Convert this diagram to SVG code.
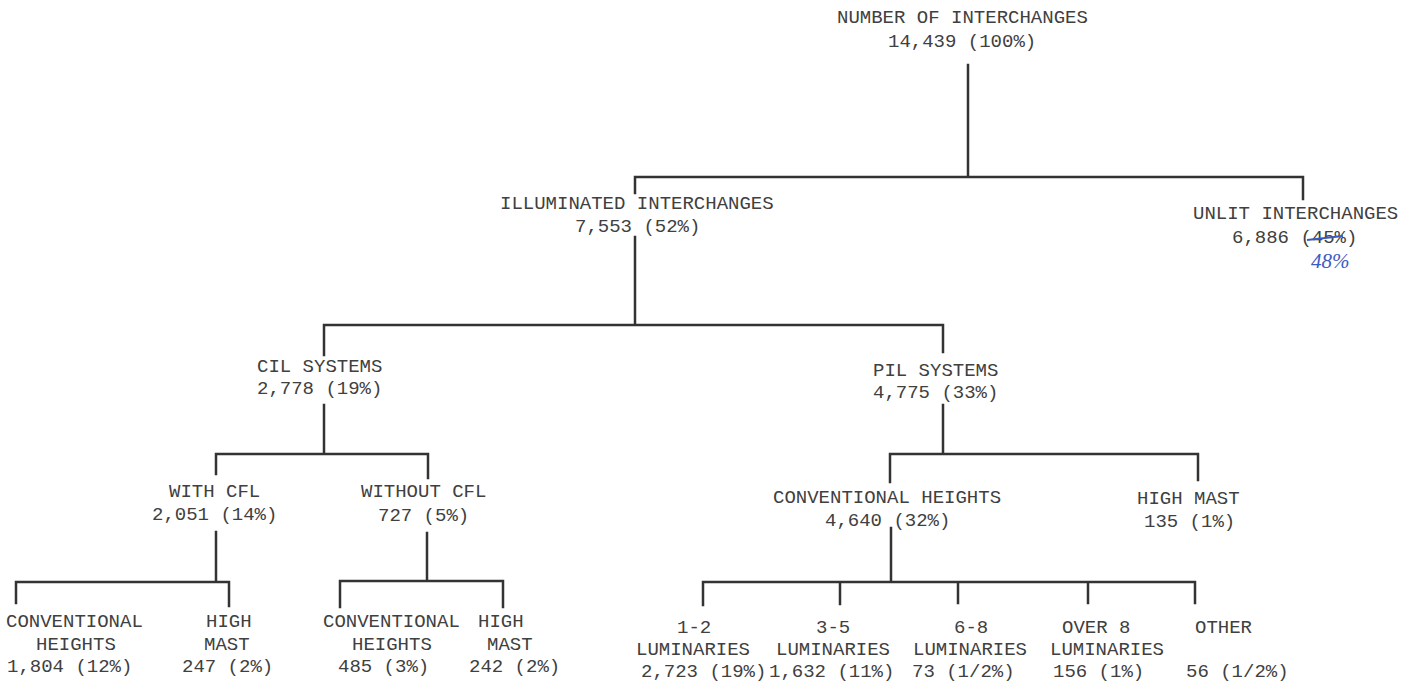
<svg xmlns="http://www.w3.org/2000/svg" width="1415" height="683" viewBox="0 0 1415 683">
<style>
  text { font-family: "Liberation Mono", "DejaVu Sans Mono", monospace; font-size: 19px; fill: #404040; }
  .c { stroke: #333; stroke-width: 2.5; fill: none; stroke-linecap: square; }
  .hand { font-family: "Liberation Serif", serif; font-style: italic; font-size: 21px; fill: #3b5bc4; }
  .strike { stroke: #3b5bc4; stroke-width: 1.8; fill: none; }
</style>
<rect width="1415" height="683" fill="#ffffff"/>
<g id="connectors">
  <path class="c" d="M968,65 V177 M635,177 H1303 M635,177 V193 M1303,177 V199"/>
  <path class="c" d="M635,237 V325 M324,325 H943 M324,325 V355 M943,325 V352"/>
  <path class="c" d="M324,405 V454 M216,454 H428 M216,454 V474 M428,454 V478"/>
  <path class="c" d="M943,405 V454 M890,454 H1198 M890,454 V482 M1198,454 V480"/>
  <path class="c" d="M216,532 V582 M16,582 H229 M16,582 V603 M229,582 V606"/>
  <path class="c" d="M427,533 V581 M340,581 H503 M340,581 V607 M503,581 V607"/>
  <path class="c" d="M891,528 V582 M703,582 H1195 M703,582 V605 M840,582 V604 M958,582 V603 M1088,582 V603 M1195,582 V603"/>
</g>
<g id="n-total">
  <text x="837" y="23">NUMBER OF INTERCHANGES</text>
  <text x="888" y="47">14,439 (100%)</text>
</g>
<g id="n-illuminated">
  <text x="500" y="209">ILLUMINATED INTERCHANGES</text>
  <text x="575" y="232">7,553 (52%)</text>
</g>
<g id="n-unlit">
  <text x="1193" y="219">UNLIT INTERCHANGES</text>
  <text x="1232" y="243">6,886 (45%)</text>
  <path class="strike" d="M1307,240 L1343,236"/>
  <text class="hand" x="1311" y="268">48%</text>
</g>
<g id="n-cil">
  <text x="257" y="372">CIL SYSTEMS</text>
  <text x="257" y="394">2,778 (19%)</text>
</g>
<g id="n-pil">
  <text x="873" y="376">PIL SYSTEMS</text>
  <text x="873" y="398">4,775 (33%)</text>
</g>
<g id="n-with-cfl">
  <text x="169" y="497">WITH CFL</text>
  <text x="152" y="520">2,051 (14%)</text>
</g>
<g id="n-without-cfl">
  <text x="361" y="497">WITHOUT CFL</text>
  <text x="378" y="521">727 (5%)</text>
</g>
<g id="n-pil-conv">
  <text x="773" y="503">CONVENTIONAL HEIGHTS</text>
  <text x="825" y="526">4,640 (32%)</text>
</g>
<g id="n-pil-high">
  <text x="1137" y="504">HIGH MAST</text>
  <text x="1144" y="527">135 (1%)</text>
</g>
<g id="n-with-conv">
  <text x="6" y="627">CONVENTIONAL</text>
  <text x="36" y="650">HEIGHTS</text>
  <text x="7" y="672">1,804 (12%)</text>
</g>
<g id="n-with-high">
  <text x="206" y="627">HIGH</text>
  <text x="204" y="650">MAST</text>
  <text x="182" y="672">247 (2%)</text>
</g>
<g id="n-without-conv">
  <text x="323" y="627">CONVENTIONAL</text>
  <text x="352" y="650">HEIGHTS</text>
  <text x="338" y="672">485 (3%)</text>
</g>
<g id="n-without-high">
  <text x="478" y="627">HIGH</text>
  <text x="487" y="650">MAST</text>
  <text x="469" y="672">242 (2%)</text>
</g>
<g id="n-lum-1-2">
  <text x="677" y="633">1-2</text>
  <text x="636" y="655">LUMINARIES</text>
  <text x="641" y="677">2,723 (19%)</text>
</g>
<g id="n-lum-3-5">
  <text x="816" y="633">3-5</text>
  <text x="776" y="655">LUMINARIES</text>
  <text x="769" y="677">1,632 (11%)</text>
</g>
<g id="n-lum-6-8">
  <text x="954" y="633">6-8</text>
  <text x="913" y="655">LUMINARIES</text>
  <text x="912" y="677">73 (1/2%)</text>
</g>
<g id="n-lum-over8">
  <text x="1062" y="633">OVER 8</text>
  <text x="1050" y="655">LUMINARIES</text>
  <text x="1053" y="677">156 (1%)</text>
</g>
<g id="n-other">
  <text x="1195" y="633">OTHER</text>
  <text x="1186" y="677">56 (1/2%)</text>
</g>
</svg>
